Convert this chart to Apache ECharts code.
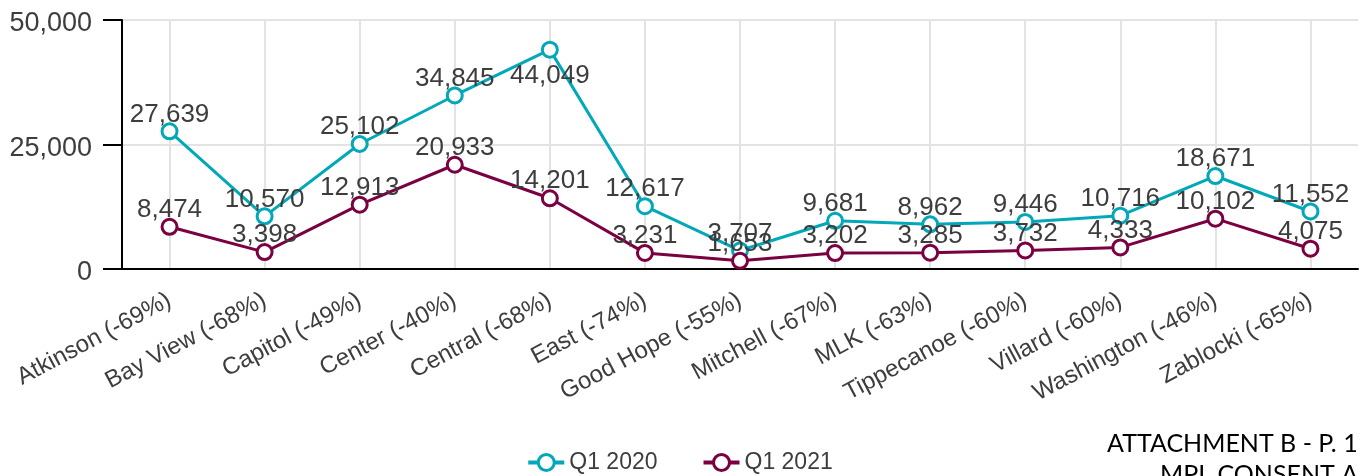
<!DOCTYPE html>
<html><head><meta charset="utf-8">
<script src="https://cdn.jsdelivr.net/npm/echarts@6/dist/echarts.min.js"></script>
<style>html,body{margin:0;padding:0;background:#fff}#c{width:1359px;height:476px}</style>
</head><body><div id="c"></div>
<script>
const categories = ['Atkinson (-69%)','Bay View (-68%)','Capitol (-49%)','Center (-40%)','Central (-68%)','East (-74%)','Good Hope (-55%)','Mitchell (-67%)','MLK (-63%)','Tippecanoe (-60%)','Villard (-60%)','Washington (-46%)','Zablocki (-65%)'];
const q2020 = [27639,10570,25102,34845,44049,12617,3707,9681,8962,9446,10716,18671,11552];
const q2021 = [8474,3398,12913,20933,14201,3231,1653,3202,3285,3732,4333,10102,4075];
const yTicks = [0,25000,50000];
const seriesNames = ['Q1 2020','Q1 2021'];
const colors = ['#00a8b9','#7b0041'];

const FONT = 'Liberation Sans, Arial, sans-serif';
const chart = echarts.init(document.getElementById('c'));
const fmt = v => v.toLocaleString('en-US');
function mkData(arr){
  const max = yTicks[yTicks.length-1];
  return arr.map(v => v > max*0.85 ? {value:v,label:{position:'bottom',distance:4}} : v);
}
function mkSeries(i, arr){
  return {
    name: seriesNames[i], type:'line', data: mkData(arr),
    symbol:'circle', symbolSize:15, showAllSymbol:true,
    lineStyle:{width:3,color:colors[i]},
    itemStyle:{color:'#fff',borderColor:colors[i],borderWidth:3},
    label:{show:true,position:'top',distance:-5,formatter:p=>fmt(p.value),
      fontFamily:FONT,fontSize:26,color:'#3d3d3d'},
    emphasis:{disabled:true},
    z: 3 + i
  };
}
chart.setOption({
  animation:false,
  color: colors,
  grid:{left:122,right:1,top:20,bottom:207,containLabel:false},
  xAxis:{
    type:'category', data:categories, boundaryGap:true,
    axisLine:{lineStyle:{color:'#000',width:2}},
    axisTick:{alignWithLabel:true,length:18,lineStyle:{color:'#000',width:2}},
    axisLabel:{rotate:28,fontFamily:FONT,fontSize:24,color:'#3d3d3d',margin:30},
    splitLine:{show:true,alignWithLabel:true,lineStyle:{color:'#e3e3e3',width:2}}
  },
  yAxis:{
    type:'value', min:0, max:50000, interval:25000,
    axisLine:{show:true,lineStyle:{color:'#000',width:2}},
    axisTick:{show:true,length:19,lineStyle:{color:'#000',width:2}},
    axisLabel:{formatter:v=>'{a|'+fmt(v)+'}',margin:30,
      rich:{a:{fontFamily:FONT,fontSize:27,color:'#3d3d3d',padding:[8,0,0,0]}}},
    splitLine:{show:true,lineStyle:{color:'#e3e3e3',width:2}}
  },
  legend:{
    bottom:-3, left:'center', itemWidth:36, itemHeight:20, itemGap:44,
    itemStyle:{borderWidth:3},
    lineStyle:{width:4},
    textStyle:{fontFamily:FONT,fontSize:23,color:'#3d3d3d'},
    data:seriesNames
  },
  graphic:[
    {type:'text',left:1107,top:431,style:{text:'ATTACHMENT B - P. 1',font:'25px Lato, Carlito, sans-serif',fill:'#000'}},
    {type:'text',left:1160,top:462,style:{text:'MPL CONSENT A',font:'25px Lato, Carlito, sans-serif',fill:'#000'}}
  ],
  series:[mkSeries(0,q2020), mkSeries(1,q2021)]
});
</script></body></html>
